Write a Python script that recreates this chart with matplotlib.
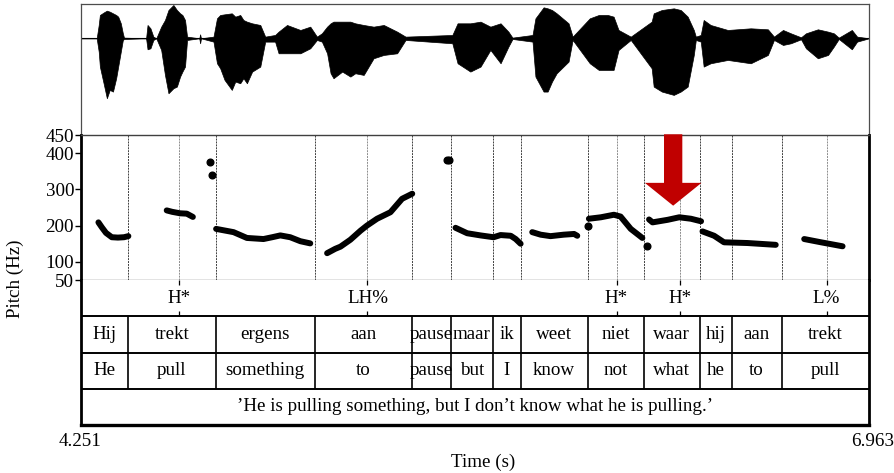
import matplotlib
matplotlib.use('Agg')
import matplotlib.pyplot as plt
from matplotlib.patches import FancyArrow
import numpy as np

plt.rcParams['font.family'] = ['Liberation Serif', 'DejaVu Serif']

t_start, t_end = 4.251, 6.963

# waveform envelope (time s, upper / lower amplitude, arbitrary units)
wave_t = [4.251, 4.305, 4.312, 4.316, 4.330, 4.340, 4.350, 4.361, 4.372, 4.379, 4.388, 4.395, 4.399,
          4.475, 4.480, 4.490, 4.500, 4.510,
          4.527, 4.540, 4.552, 4.569, 4.581, 4.592, 4.600, 4.609, 4.616,
          4.658, 4.661, 4.664,
          4.707, 4.719, 4.730, 4.745, 4.770, 4.782, 4.799, 4.810, 4.822, 4.840, 4.868, 4.885,
          4.919, 4.931, 4.960, 5.006, 5.040, 5.063,
          5.080, 5.098, 5.110, 5.120, 5.150, 5.178, 5.195, 5.224, 5.258, 5.293, 5.339, 5.368,
          5.529, 5.547, 5.591, 5.626, 5.660, 5.695, 5.722, 5.736,
          5.805, 5.815, 5.843, 5.857, 5.872, 5.888, 5.929, 5.943,
          6.002, 6.033, 6.064, 6.084, 6.101, 6.143,
          6.215, 6.222, 6.250, 6.291, 6.315, 6.339, 6.360, 6.367,
          6.384, 6.394, 6.418, 6.477, 6.556, 6.615, 6.636,
          6.667, 6.694, 6.729,
          6.746, 6.787, 6.822, 6.842, 6.859,
          6.904, 6.922, 6.963]
wave_top = [0, 0, 0.40, 0.70, 0.78, 0.83, 0.80, 0.75, 0.70, 0.65, 0.45, 0.15, 0.02,
            0, 0.40, 0.30, 0.05, 0,
            0.35, 0.55, 0.85, 1.00, 0.85, 0.75, 0.70, 0.55, 0.05,
            0, 0.12, 0,
            0.05, 0.60, 0.70, 0.72, 0.75, 0.65, 0.70, 0.55, 0.50, 0.45, 0.40, 0.05,
            0.10, 0.20, 0.40, 0.25, 0.35, 0.05,
            0.15, 0.35, 0.45, 0.50, 0.50, 0.50, 0.45, 0.40, 0.35, 0.40, 0.20, 0.05,
            0.10, 0.45, 0.45, 0.50, 0.35, 0.45, 0.20, 0.02,
            0.10, 0.60, 0.93, 0.90, 0.85, 0.75, 0.45, 0.05,
            0.60, 0.70, 0.70, 0.65, 0.25, 0.05,
            0.50, 0.75, 0.85, 0.90, 0.85, 0.65, 0.25, 0.05,
            0.10, 0.55, 0.40, 0.25, 0.30, 0.27, 0.05,
            0.25, 0.15, 0.03,
            0.15, 0.27, 0.20, 0.15, 0.02,
            0.25, 0.05, 0]
wave_bot = [0, 0, -0.40, -0.85, -1.40, -1.80, -1.55, -1.60, -1.20, -0.85, -0.40, -0.05, -0.02,
            0, -0.33, -0.30, -0.05, 0,
            -0.35, -1.10, -1.65, -1.50, -1.45, -1.15, -1.00, -0.85, -0.05,
            0, -0.15, 0,
            -0.10, -0.75, -0.90, -1.25, -1.55, -1.30, -1.35, -1.20, -1.35, -1.00, -0.85, -0.10,
            -0.10, -0.45, -0.45, -0.45, -0.30, -0.05,
            -0.10, -0.45, -1.05, -1.20, -1.00, -1.15, -1.05, -1.10, -0.60, -0.50, -0.45, -0.05,
            -0.15, -0.75, -1.00, -0.85, -0.35, -0.75, -0.25, -0.02,
            -0.10, -1.15, -1.60, -1.60, -1.30, -1.05, -0.70, -0.05,
            -0.75, -0.95, -0.95, -0.95, -0.35, -0.05,
            -0.90, -1.45, -1.60, -1.70, -1.60, -1.45, -0.50, -0.05,
            -0.10, -0.85, -0.75, -0.65, -0.75, -0.50, -0.05,
            -0.20, -0.15, -0.03,
            -0.30, -0.60, -0.50, -0.25, -0.02,
            -0.33, -0.10, 0]

# pitch contour segments (s, Hz)
pitch_t = [[4.311, 4.323, 4.337, 4.357, 4.378, 4.399, 4.414],
           [4.546, 4.565, 4.592, 4.615, 4.636],
           [4.716, 4.776, 4.822, 4.879, 4.909, 4.937, 4.971, 5.006, 5.040],
           [5.098, 5.126, 5.144, 5.178, 5.213, 5.235, 5.270, 5.316, 5.356, 5.391],
           [5.540, 5.580, 5.626, 5.671, 5.695, 5.730, 5.747, 5.764],
           [5.804, 5.833, 5.867, 5.912, 5.948, 5.959],
           [5.999, 6.040, 6.085, 6.108, 6.143, 6.183],
           [6.206, 6.218, 6.270, 6.310, 6.350, 6.385],
           [6.390, 6.430, 6.464, 6.545, 6.642],
           [6.740, 6.798, 6.872]]
pitch_hz = [[209, 195, 180, 168, 167, 168, 171],
            [242, 238, 234, 233, 224],
            [191, 182, 166, 163, 168, 173, 168, 157, 151],
            [124, 136, 142, 161, 186, 200, 219, 237, 274, 288],
            [194, 179, 173, 168, 174, 172, 163, 150],
            [182, 175, 171, 175, 177, 172],
            [219, 223, 230, 225, 191, 166],
            [217, 209, 216, 223, 219, 212],
            [184, 172, 154, 152, 147],
            [163, 154, 143]]
dot_t = [4.696, 4.703, 5.512, 5.518, 5.996, 6.198]
dot_hz = [375, 340, 380, 382, 200, 145]

# annotation
words = ['Hij', 'trekt', 'ergens', 'aan', 'pause', 'maar', 'ik', 'weet',
         'niet', 'waar', 'hij', 'aan', 'trekt']
gloss = ['He', 'pull', 'something', 'to', 'pause', 'but', 'I', 'know',
         'not', 'what', 'he', 'to', 'pull']
bounds = [4.414, 4.714, 5.056, 5.391, 5.525, 5.668, 5.764, 5.995,
          6.189, 6.380, 6.490, 6.662]
tone_t = [4.590, 5.237, 6.094, 6.313, 6.817]
tone_lab = ['H*', 'LH%', 'H*', 'H*', 'L%']
translation = '\u2019He is pulling something, but I don\u2019t know what he is pulling.\u2019'

arrow_t, arrow_tip_hz, arrow_head_hz = 6.289, 255, 318

fig = plt.figure(figsize=(8.95, 4.73), dpi=100)
L, Wd = 81 / 895, 788 / 895
ax_w = fig.add_axes([L, 1 - 135 / 473, Wd, 130.5 / 473])
ax_p = fig.add_axes([L, 1 - 280 / 473, Wd, 145 / 473])
ax_g = fig.add_axes([L, 1 - 425 / 473, Wd, 145 / 473])

fs = 13.7

# waveform
ax_w.fill_between(wave_t, wave_bot, wave_top, color='black', lw=0.5)
ax_w.plot(wave_t, np.zeros(len(wave_t)), color='black', lw=0.8)
ax_w.set_xlim(t_start, t_end)
ax_w.set_ylim(-2.904, 1.015)
ax_w.set_xticks([])
ax_w.set_yticks([])
for s in ax_w.spines.values():
    s.set_color('0.3')
    s.set_linewidth(0.9)
ax_w.spines['bottom'].set_visible(False)

# pitch
for b in bounds:
    ax_p.axvline(b, color='0.25', lw=0.7, ls=(0, (2, 1)))
for t in tone_t:
    ax_p.axvline(t, color='0.55', lw=0.7, ls=(0, (2, 1)))
for ts, hs in zip(pitch_t, pitch_hz):
    ax_p.plot(ts, hs, color='black', lw=4.3, solid_capstyle='round',
              solid_joinstyle='round', zorder=3)
ax_p.plot(dot_t, dot_hz, 'o', color='black', ms=4.8, zorder=3)
ax_p.add_patch(FancyArrow(arrow_t, 452, 0, arrow_tip_hz - 452, width=0.063,
                          head_width=0.195, head_length=arrow_head_hz - arrow_tip_hz,
                          length_includes_head=True, color='#C00000', lw=0,
                          zorder=5, clip_on=False))
ax_p.set_xlim(t_start, t_end)
ax_p.set_ylim(50, 450)
ax_p.set_yticks([50, 100, 200, 300, 400, 450])
ax_p.tick_params(axis='y', length=4, width=1, labelsize=fs, pad=1)
ax_p.set_xticks([])
ax_p.spines['left'].set_linewidth(2)
ax_p.spines['right'].set_linewidth(2)
ax_p.spines['top'].set_color('0.25')
ax_p.spines['top'].set_linewidth(1)
ax_p.spines['bottom'].set_color('0.45')
ax_p.spines['bottom'].set_linewidth(1)

# tiers
ax_g.set_xlim(t_start, t_end)
ax_g.set_ylim(0, 4)
for y in [1, 2, 3]:
    ax_g.axhline(y, color='black', lw=1.4)
for b in bounds:
    ax_g.vlines(b, 1, 3, color='black', lw=1.2)
for t, lab in zip(tone_t, tone_lab):
    ax_g.vlines(t, 3.85, 4, color='black', lw=0.9)
    ax_g.vlines(t, 3, 3.15, color='black', lw=0.9)
    ax_g.text(t, 3.5, lab, ha='center', va='center', fontsize=fs)
edges = [t_start] + bounds + [t_end]
for i in range(len(words)):
    mid = (edges[i] + edges[i + 1]) / 2
    ax_g.text(mid, 2.5, words[i], ha='center', va='center', fontsize=fs)
    ax_g.text(mid, 1.5, gloss[i], ha='center', va='center', fontsize=fs)
ax_g.text((t_start + t_end) / 2, 0.5, translation, ha='center', va='center', fontsize=fs)
ax_g.set_xticks([])
ax_g.set_yticks([])
ax_g.spines['top'].set_visible(False)
ax_g.spines['left'].set_linewidth(2)
ax_g.spines['right'].set_linewidth(2)
ax_g.spines['bottom'].set_linewidth(2.4)

fig.text(15 / 895, 1 - 279 / 473, 'Pitch (Hz)', rotation=90, ha='center', va='center', fontsize=fs)
fig.text(483 / 895, 1 - 462 / 473, 'Time (s)', ha='center', va='center', fontsize=fs)
fig.text(80 / 895, 1 - 441 / 473, f'{t_start:.3f}', ha='center', va='center', fontsize=fs)
fig.text(873 / 895, 1 - 441 / 473, f'{t_end:.3f}', ha='center', va='center', fontsize=fs)

fig.savefig('out.png', dpi=100)
